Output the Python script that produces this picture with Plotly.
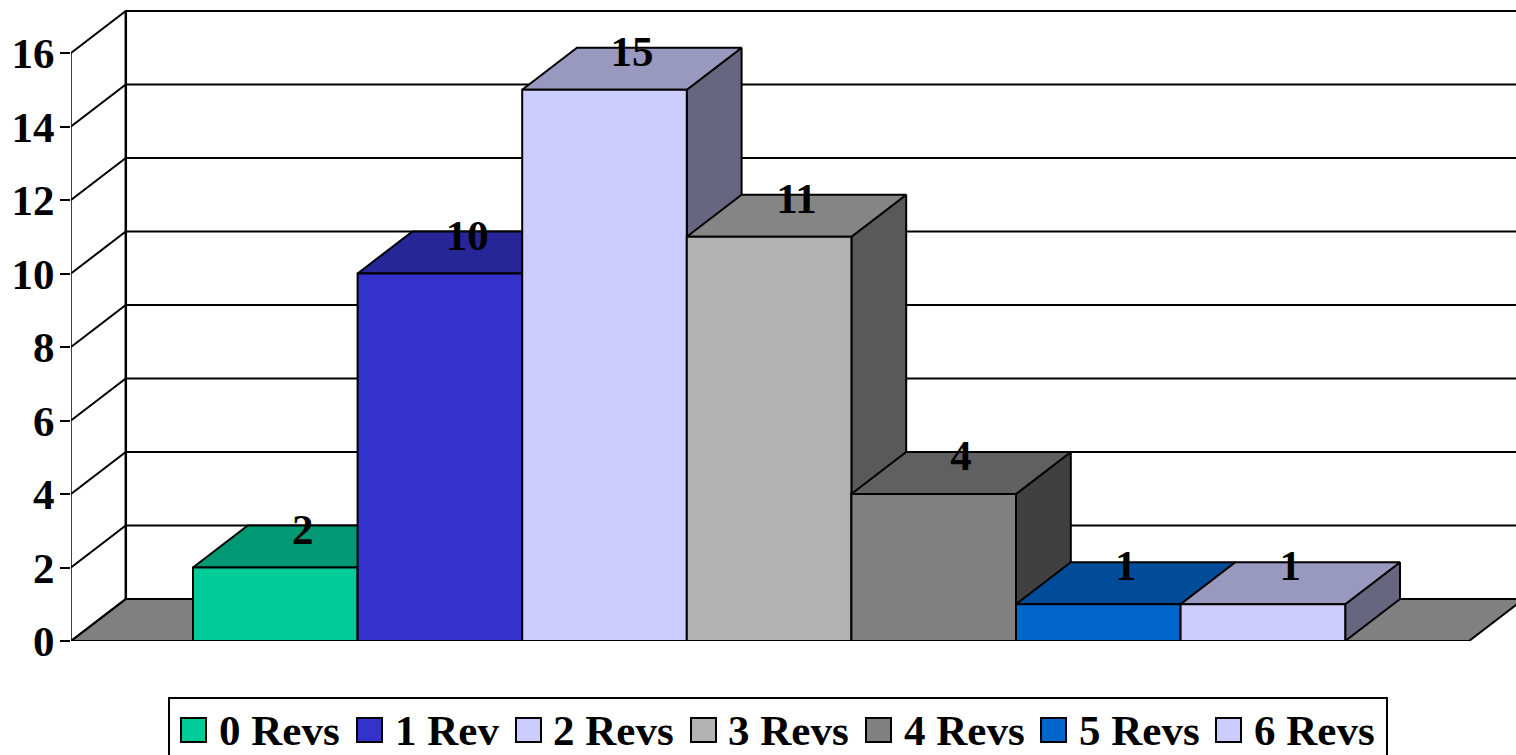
import plotly.graph_objects as go

# ---- data ----
categories = ["0 Revs", "1 Rev", "2 Revs", "3 Revs", "4 Revs", "5 Revs", "6 Revs"]
values = [2, 10, 15, 11, 4, 1, 1]
y_ticks = [0, 2, 4, 6, 8, 10, 12, 14, 16]
front_colors = ["#00CC99", "#3333CC", "#CCCCFF", "#B2B2B2", "#808080", "#0066CC", "#CCCCFF"]
top_colors = ["#009973", "#262699", "#9999BF", "#858585", "#606060", "#004C99", "#9999BF"]
side_colors = ["#006650", "#1A1A66", "#666680", "#595959", "#404040", "#003366", "#666680"]
floor_color = "#808080"

# ---- layout geometry (pixels of the 1516x755 page) ----
W, H = 1516, 755
PLOT_L, PLOT_B = 71, 641
BAR0_PX, BAR_W_PX = 193, 164.6
PX_PER_UNIT = 36.75
DEPTH_X = 54.8 / BAR_W_PX
DEPTH_Y = 42 / PX_PER_UNIT
X_MIN = (PLOT_L - BAR0_PX) / BAR_W_PX
X_MAX = (W - BAR0_PX) / BAR_W_PX
Y_MAX = PLOT_B / PX_PER_UNIT
FLOOR_R = (1469 - BAR0_PX) / BAR_W_PX
FONT = "Liberation Serif"

def px(p):
    return (p - PLOT_L) / (W - PLOT_L)

def py(p):
    return (PLOT_B - p) / PLOT_B

fig = go.Figure()

def poly(xs, ys, fill, width=2):
    fig.add_trace(go.Scatter(
        x=xs + xs[:1], y=ys + ys[:1], mode="lines", fill="toself", fillcolor=fill,
        line=dict(color="#000000", width=width), hoverinfo="skip", showlegend=False,
        cliponaxis=False,
    ))

def line(xs, ys, width=2):
    fig.add_trace(go.Scatter(
        x=xs, y=ys, mode="lines", line=dict(color="#000000", width=width),
        hoverinfo="skip", showlegend=False, cliponaxis=False,
    ))

# floor
poly([X_MIN, FLOOR_R, FLOOR_R + DEPTH_X, X_MIN + DEPTH_X],
     [0, 0, DEPTH_Y, DEPTH_Y], floor_color)

# walls: gridlines on back wall and diagonals on side wall
for t in y_ticks:
    fig.add_trace(go.Scatter(
        x=[X_MIN, X_MIN + DEPTH_X, X_MAX], y=[t, t + DEPTH_Y, t + DEPTH_Y], mode="lines",
        line=dict(color="#000000", width=2), hoverinfo="skip", showlegend=False,
    ))
line([X_MIN + DEPTH_X, X_MIN + DEPTH_X], [DEPTH_Y, y_ticks[-1] + DEPTH_Y], 2.5)
line([X_MIN, X_MIN], [0, y_ticks[-1]], 1.5)

# bars painted left to right: front, top, side
for i, v in enumerate(values):
    l, r = i, i + 1
    poly([r, r + DEPTH_X, r + DEPTH_X, r], [0, DEPTH_Y, v + DEPTH_Y, v], side_colors[i])
    poly([l, r, r + DEPTH_X, l + DEPTH_X], [v, v, v + DEPTH_Y, v + DEPTH_Y], top_colors[i])
    poly([l, r, r, l], [0, 0, v, v], front_colors[i])

# value labels
fig.add_trace(go.Scatter(
    x=[i + 0.5 + DEPTH_X / 2 for i in range(len(values))],
    y=[v + DEPTH_Y - 0.2 for v in values],
    mode="text", text=[str(v) for v in values], textposition="middle center",
    textfont=dict(family=FONT, size=43, color="#000000"),
    texttemplate="<b>%{text}</b>", hoverinfo="skip", showlegend=False, cliponaxis=False,
))

# legend
swatch_px = [181, 357, 516, 691, 866, 1041, 1216]
label_px = [218, 394, 552, 727, 903, 1078, 1253]
shapes = [dict(type="rect", xref="paper", yref="paper",
               x0=px(169), x1=px(1387), y0=py(770), y1=py(698),
               line=dict(color="#000000", width=2), fillcolor="#FFFFFF")]
annotations = []
for name, color, sx, lx in zip(categories, front_colors, swatch_px, label_px):
    shapes.append(dict(type="rect", xref="paper", yref="paper",
                       x0=px(sx), x1=px(sx + 25), y0=py(742), y1=py(718),
                       line=dict(color="#000000", width=2), fillcolor=color))
    annotations.append(dict(xref="paper", yref="paper", x=px(lx), y=py(730),
                            xanchor="left", yanchor="middle", showarrow=False,
                            text=f"<b>{name}</b>", borderpad=0,
                            font=dict(family=FONT, size=43, color="#000000")))

fig.update_layout(
    width=W, height=H, autosize=False,
    margin=dict(l=PLOT_L, r=0, t=0, b=H - PLOT_B, pad=0),
    paper_bgcolor="#FFFFFF", plot_bgcolor="#FFFFFF",
    showlegend=False, shapes=shapes, annotations=annotations,
    xaxis=dict(range=[X_MIN, X_MAX], visible=False, fixedrange=True),
    yaxis=dict(range=[0, Y_MAX], tickmode="array", tickvals=y_ticks,
               ticktext=[f"<b>{t}</b>" for t in y_ticks],
               showgrid=False, zeroline=False, showline=False,
               ticks="outside", ticklen=10, tickwidth=2, tickcolor="#000000",
               ticklabelstandoff=-3,
               tickfont=dict(family=FONT, size=43, color="#000000"),
               fixedrange=True),
)

fig.write_html("out.html", config={"displayModeBar": False},
               post_script="document.body.style.margin='0';document.body.style.overflow='hidden';")
